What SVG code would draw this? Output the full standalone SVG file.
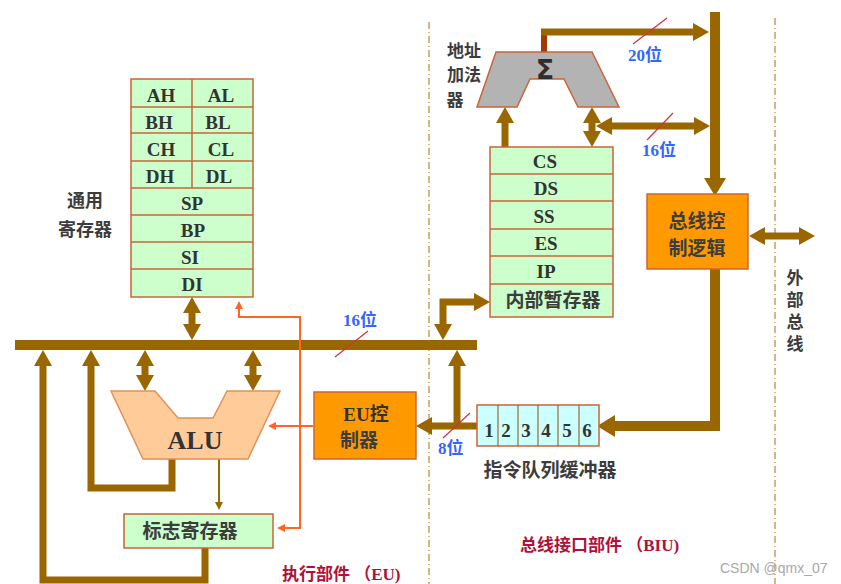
<svg xmlns="http://www.w3.org/2000/svg" width="841" height="584" viewBox="0 0 841 584">
<style>
.reg{fill:#CCFFCC;stroke:#C8663A;stroke-width:1.5}
.lat{font-family:"Liberation Serif",serif;font-weight:bold;font-size:19px;fill:#333333;text-anchor:middle}
.cn{font-family:"Noto Sans CJK SC",sans-serif;font-weight:bold;font-size:18px;fill:#3C3C3C;text-anchor:middle}
.mix{font-family:"Liberation Serif","Noto Sans CJK SC",serif;font-weight:bold;font-size:19px;fill:#333333;text-anchor:middle}
.blue{font-family:"Liberation Serif","Noto Sans CJK SC",serif;font-weight:bold;font-size:17px;fill:#3366FF}
.red{font-family:"Liberation Serif","Noto Sans CJK SC",serif;font-weight:bold;font-size:17px;fill:#B0103A}
.bus{fill:none;stroke:#996600;stroke-linejoin:miter}
.w7{stroke-width:7}
.w10{stroke-width:10}
.thin{fill:none;stroke:#FF6622;stroke-width:2}
.slash{stroke:#CC3344;stroke-width:1.2}
.sep{stroke:#C8A060;stroke-width:1.5;stroke-dasharray:7,3,1,3}
</style>
<defs>
<marker id="ah" markerUnits="userSpaceOnUse" markerWidth="16" markerHeight="18" refX="6" refY="9" orient="auto-start-reverse"><path d="M0,0 L16,9 L0,18 z" fill="#996600"/></marker>
<marker id="ahL" markerUnits="userSpaceOnUse" markerWidth="18" markerHeight="22" refX="6" refY="11" orient="auto-start-reverse"><path d="M0,0 L18,11 L0,22 z" fill="#996600"/></marker>
<marker id="ao" markerUnits="userSpaceOnUse" markerWidth="8" markerHeight="8" refX="6" refY="4" orient="auto-start-reverse"><path d="M0,0 L8,4 L0,8 z" fill="#FF6622"/></marker>
<marker id="ab" markerUnits="userSpaceOnUse" markerWidth="8" markerHeight="8" refX="6" refY="4" orient="auto-start-reverse"><path d="M0,0 L8,4 L0,8 z" fill="#996600"/></marker>
</defs>

<!-- separators -->
<line class="sep" x1="429" y1="22" x2="429" y2="584"/>
<line class="sep" x1="775" y1="18" x2="775" y2="584"/>

<!-- connectors -->
<g id="connectors">
<rect x="15" y="340" width="462" height="10" fill="#996600"/>
<line x1="544" y1="29" x2="544" y2="52" stroke="#A03A0A" stroke-width="6"/>
<path class="bus w7" d="M541,32 H699" marker-end="url(#ah)"/>
<path class="bus w10" d="M715,12 V184" marker-end="url(#ahL)"/>
<path class="bus w7" d="M606,126 H700" marker-start="url(#ah)" marker-end="url(#ah)"/>
<path class="bus w7" d="M592,117 V137" marker-start="url(#ah)" marker-end="url(#ah)"/>
<path class="bus w7" d="M505,147 V117" marker-end="url(#ah)"/>
<path class="bus w7" d="M759,236 H805" marker-start="url(#ah)" marker-end="url(#ah)"/>
<path class="bus w10" d="M715,269 V426 H609" marker-end="url(#ahL)"/>
<path class="bus w7" d="M477,426 H426" marker-end="url(#ah)"/>
<path class="bus w7" d="M457,426 V360" marker-end="url(#ah)"/>
<path class="bus w7" d="M443,330 V302 H480" marker-start="url(#ah)" marker-end="url(#ah)"/>
<path class="bus w7" d="M192,307 V330" marker-start="url(#ah)" marker-end="url(#ah)"/>
<path class="bus w7" d="M145,360 V381" marker-start="url(#ah)" marker-end="url(#ah)"/>
<path class="bus w7" d="M253,360 V381" marker-start="url(#ah)" marker-end="url(#ah)"/>
<path class="bus w7" d="M172,459 V488 H91 V360" marker-end="url(#ah)"/>
<path class="bus w7" d="M205,548 V580 H43 V360" marker-end="url(#ah)"/>
<path class="bus" stroke-width="2" d="M219,459 V508" marker-end="url(#ab)"/>
<path class="thin" d="M279,528 H300 V317 H239 V303" marker-start="url(#ao)" marker-end="url(#ao)"/>
<path class="thin" d="M313,426 H270" marker-end="url(#ao)"/>
<line class="slash" x1="633" y1="44" x2="667" y2="18"/>
<line class="slash" x1="647" y1="140" x2="673" y2="113"/>
<line class="slash" x1="335" y1="357" x2="368" y2="331"/>
<line class="slash" x1="443" y1="438" x2="470" y2="413"/>
</g>

<!-- general registers -->
<g id="gen-regs">
<rect class="reg" x="131" y="79" width="122" height="218"/>
<g stroke="#C8663A" stroke-width="1.5">
<line x1="131" y1="107" x2="253" y2="107"/>
<line x1="131" y1="133" x2="253" y2="133"/>
<line x1="131" y1="161" x2="253" y2="161"/>
<line x1="131" y1="188" x2="253" y2="188"/>
<line x1="131" y1="215" x2="253" y2="215"/>
<line x1="131" y1="242" x2="253" y2="242"/>
<line x1="131" y1="269" x2="253" y2="269"/>
<line x1="192" y1="79" x2="192" y2="188"/>
</g>
<text class="lat" x="161" y="102">AH</text><text class="lat" x="221" y="102">AL</text>
<text class="lat" x="159" y="129">BH</text><text class="lat" x="218" y="129">BL</text>
<text class="lat" x="161" y="156">CH</text><text class="lat" x="221" y="156">CL</text>
<text class="lat" x="160" y="183">DH</text><text class="lat" x="219" y="183">DL</text>
<text class="lat" x="192" y="210">SP</text>
<text class="lat" x="193" y="237">BP</text>
<text class="lat" x="190" y="264">SI</text>
<text class="lat" x="192" y="291">DI</text>
</g>
<g id="gen-label">
<text class="cn" x="85" y="207">通用</text>
<text class="cn" x="85" y="236">寄存器</text>
</g>

<!-- segment registers -->
<g id="seg-regs">
<rect class="reg" x="490" y="147" width="123" height="170"/>
<g stroke="#C8663A" stroke-width="1.5">
<line x1="490" y1="174" x2="613" y2="174"/>
<line x1="490" y1="201" x2="613" y2="201"/>
<line x1="490" y1="229" x2="613" y2="229"/>
<line x1="490" y1="256" x2="613" y2="256"/>
<line x1="490" y1="284" x2="613" y2="284"/>
</g>
<text class="lat" x="545" y="168">CS</text>
<text class="lat" x="546" y="195">DS</text>
<text class="lat" x="544" y="223">SS</text>
<text class="lat" x="546" y="250">ES</text>
<text class="lat" x="546" y="278">IP</text>
<text class="cn" x="553" y="307" style="font-size:19px">内部暂存器</text>
</g>

<!-- address adder -->
<g id="adder">
<polygon points="496,52 592,52 619,107 578,107 564,79 530,79 517,107 477,107" fill="#B3B3B3" stroke="#C8663A" stroke-width="1.5"/>
<text x="545" y="79" font-family="DejaVu Sans,sans-serif" font-weight="bold" font-size="27" fill="#2E2E2E" text-anchor="middle">Σ</text>
</g>
<g id="adder-label">
<text class="cn" x="464" y="57" style="font-size:17px">地址</text>
<text class="cn" x="464" y="81" style="font-size:17px">加法</text>
<text class="cn" x="455" y="106" style="font-size:17px">器</text>
</g>

<!-- bus control logic -->
<g id="bus-ctrl">
<rect x="647" y="194" width="101" height="75" fill="#FF9900" stroke="#CC6633" stroke-width="1.5"/>
<text class="cn" x="697" y="228" style="font-size:19px">总线控</text>
<text class="cn" x="697" y="255" style="font-size:19px">制逻辑</text>
</g>
<g id="ext-bus-label">
<text x="795" y="269" font-family="Noto Sans CJK SC,sans-serif" font-weight="bold" font-size="17" fill="#3C3C3C" style="writing-mode:vertical-rl;letter-spacing:5px">外部总线</text>
</g>

<!-- instruction queue -->
<g id="queue">
<rect x="477" y="405" width="122" height="41" fill="#CCFFFF" stroke="#C8663A" stroke-width="1.5"/>
<g stroke="#996633" stroke-width="1.2">
<line x1="498" y1="405" x2="498" y2="446"/>
<line x1="518" y1="405" x2="518" y2="446"/>
<line x1="538" y1="405" x2="538" y2="446"/>
<line x1="558" y1="405" x2="558" y2="446"/>
<line x1="579" y1="405" x2="579" y2="446"/>
</g>
<text class="lat" x="489" y="437">1</text>
<text class="lat" x="506" y="437">2</text>
<text class="lat" x="526" y="437">3</text>
<text class="lat" x="546" y="437">4</text>
<text class="lat" x="567" y="437">5</text>
<text class="lat" x="587" y="437">6</text>
<text class="cn" x="550" y="477" style="font-size:19px">指令队列缓冲器</text>
</g>

<!-- EU control -->
<g id="eu-ctrl">
<rect x="314" y="392" width="102" height="67" fill="#FF9900" stroke="#CC6633" stroke-width="1.5"/>
<text class="mix" x="366" y="421">EU控</text>
<text class="cn" x="359" y="447" style="font-size:19px">制器</text>
</g>

<!-- ALU -->
<g id="alu">
<polygon points="111,391 155,391 178,418 213,418 227,391 280,391 248,459 143,459" fill="#FFCC99" stroke="#E0905A" stroke-width="1.5"/>
<text class="lat" x="195" y="449" style="font-size:26px">ALU</text>
</g>

<!-- flag register -->
<g id="flags">
<rect class="reg" x="124" y="514" width="149" height="34"/>
<text class="cn" x="190" y="538" style="font-size:19px">标志寄存器</text>
</g>

<!-- labels -->
<g id="labels">
<text class="blue" x="628" y="61">20位</text>
<text class="blue" x="642" y="156">16位</text>
<text class="blue" x="343" y="326">16位</text>
<text class="blue" x="438" y="454">8位</text>
<text class="red" x="520" y="551">总线接口部件 （BIU)</text>
<text class="red" x="282" y="580">执行部件 （EU)</text>
<text x="720" y="573" font-family="Liberation Sans,sans-serif" font-size="14" fill="#A8A8A8">CSDN @qmx_07</text>
</g>
</svg>
